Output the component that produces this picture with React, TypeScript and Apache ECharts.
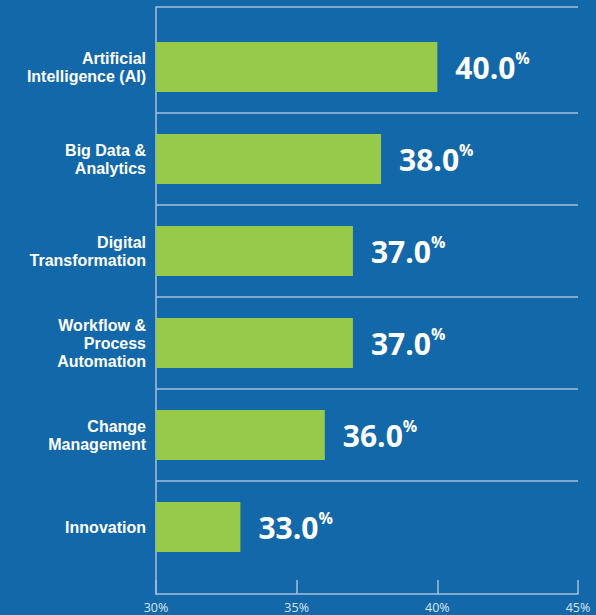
import React, { useEffect, useRef } from 'react';
import * as echarts from 'echarts';

const categories = [
  'Artificial\nIntelligence (AI)',
  'Big Data &\nAnalytics',
  'Digital\nTransformation',
  'Workflow &\nProcess\nAutomation',
  'Change\nManagement',
  'Innovation',
];
const values = [40.0, 38.0, 37.0, 37.0, 36.0, 33.0];
const xTicks = [30, 35, 40, 45];

const BG = '#1368a9';
const BAR = '#97ca4b';
const LINE = '#a7bfd8';
const FONT = 'Open Sans';
const CAT_FONT = 'Liberation Sans';

export default function App() {
  const ref = useRef<HTMLDivElement>(null);
  useEffect(() => {
    if (!ref.current) return;
    const chart = echarts.init(ref.current, null, { renderer: 'svg' });
    const xMin = xTicks[0];
    const xMax = xTicks[xTicks.length - 1];
    const interval = xTicks[1] - xTicks[0];
    chart.setOption({
      animation: false,
      backgroundColor: BG,
      grid: [
        { left: 156, right: 18, top: 21, bottom: 42, containLabel: false },
        { left: 156, right: 18, top: 7, bottom: 21, containLabel: false },
      ],
      xAxis: [
        { type: 'value', gridIndex: 0, min: xMin, max: xMax, interval, show: false },
        {
          type: 'value',
          gridIndex: 1,
          min: xMin,
          max: xMax,
          interval,
          axisLine: { show: true, onZero: false, lineStyle: { color: LINE, width: 1.5 } },
          axisTick: { show: true, inside: true, length: 14, lineStyle: { color: LINE, width: 1.5 } },
          splitLine: { show: false },
          axisLabel: {
            formatter: '{value}%',
            color: '#dbe6f1',
            fontSize: 12.5,
            fontFamily: FONT,
            margin: 7,
          },
        },
      ],
      yAxis: [
        {
          type: 'category',
          gridIndex: 0,
          data: categories,
          inverse: true,
          axisLine: { show: false },
          axisTick: { show: false },
          splitLine: {
            show: true,
            showMinLine: false,
            showMaxLine: false,
            lineStyle: { color: LINE, width: 1.5 },
          },
          axisLabel: {
            color: '#ffffff',
            fontSize: 16,
            fontWeight: 'bold',
            fontFamily: CAT_FONT,
            lineHeight: 18,
            margin: 10,
          },
        },
        {
          type: 'value',
          gridIndex: 1,
          min: 0,
          max: 1,
          interval: 1,
          axisLabel: { show: false },
          axisTick: { show: false },
          axisLine: { show: true, onZero: false, lineStyle: { color: LINE, width: 1.5 } },
          splitLine: {
            show: true,
            showMinLine: false,
            showMaxLine: true,
            lineStyle: { color: LINE, width: 1.5 },
          },
        },
      ],
      series: [
        {
          type: 'bar',
          xAxisIndex: 0,
          yAxisIndex: 0,
          data: values,
          barWidth: 50,
          itemStyle: { color: BAR },
          label: {
            show: true,
            position: 'right',
            distance: 18,
            formatter: (p: any) => `{v|${Number(p.value).toFixed(1)}}{p|%}`,
            rich: {
              v: { fontSize: 30, fontWeight: 'bold', color: '#ffffff', fontFamily: FONT, lineHeight: 34 },
              p: { fontSize: 16, fontWeight: 'bold', color: '#ffffff', fontFamily: FONT, lineHeight: 20, verticalAlign: 'top' },
            },
          },
        },
      ],
    });
    return () => chart.dispose();
  }, []);
  return (
    <div
      ref={ref}
      style={{ position: 'fixed', left: 0, top: 0, width: 596, height: 615 }}
    />
  );
}
